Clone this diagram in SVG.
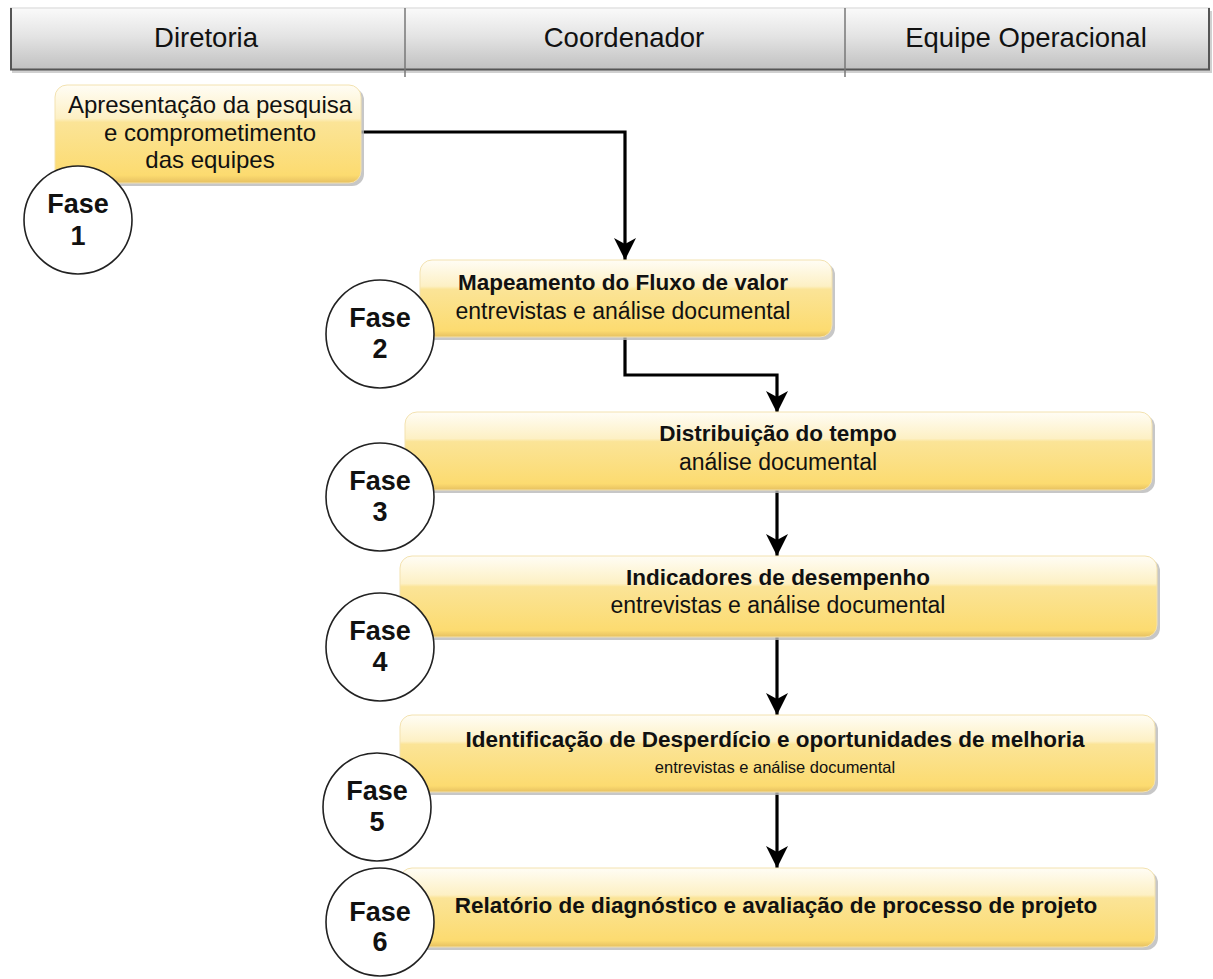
<svg xmlns="http://www.w3.org/2000/svg" width="1213" height="979" viewBox="0 0 1213 979">
  <defs>
    <linearGradient id="hdr" x1="0" y1="0" x2="0" y2="1">
      <stop offset="0" stop-color="#fafafa"/>
      <stop offset="0.45" stop-color="#e4e4e4"/>
      <stop offset="1" stop-color="#c0c0c0"/>
    </linearGradient>
    <linearGradient id="box" x1="0" y1="0" x2="0" y2="1">
      <stop offset="0" stop-color="#fffdf5"/>
      <stop offset="0.34" stop-color="#fdf0c4"/>
      <stop offset="0.38" stop-color="#fbe497"/>
      <stop offset="0.92" stop-color="#fcdb70"/>
      <stop offset="1" stop-color="#e6c060"/>
    </linearGradient>
    <marker id="arrow" markerUnits="userSpaceOnUse" markerWidth="24" markerHeight="26" refX="22" refY="12" orient="auto">
      <path d="M22,12 L0,1 L6,12 L0,23 Z" fill="#000"/>
    </marker>
    <style>
      .lane { fill: url(#hdr); stroke: none; }
      .lanetxt { font-family: "Liberation Sans", Arial, sans-serif; font-size: 27.5px; fill: #111; text-anchor: middle; }
      .shadow { fill: #b9b9b9; opacity: 0.8; }
      .box { fill: url(#box); stroke: #f3e2b0; stroke-width: 1; }
      .t { font-family: "Liberation Sans", Arial, sans-serif; font-size: 23px; fill: #111; text-anchor: middle; }
      .big { font-size: 24px; }
      .b { font-weight: bold; font-size: 22.5px; }
      .s { font-size: 16.5px; }
      .phase { fill: #fff; stroke: #222; stroke-width: 1.6; }
      .ptxt { font-family: "Liberation Sans", Arial, sans-serif; font-size: 27px; font-weight: bold; fill: #111; text-anchor: middle; }
      .edge { fill: none; stroke: #000; stroke-width: 3.2; marker-end: url(#arrow); }
    </style>
  </defs>

  <!-- swimlane header -->
  <g id="header">
    <rect x="12" y="11" width="1200" height="62" fill="#d0d0d0"/>
    <rect class="lane" x="10" y="8" width="1200" height="62"/>
    <line x1="10" y1="8" x2="1210" y2="8" stroke="#e2e2e2" stroke-width="1.5"/>
    <line x1="11" y1="8" x2="11" y2="70" stroke="#555" stroke-width="2"/>
    <line x1="1209" y1="8" x2="1209" y2="70" stroke="#555" stroke-width="2"/>
    <line x1="10" y1="69.5" x2="1210" y2="69.5" stroke="#555" stroke-width="2"/>
    <line x1="405" y1="8" x2="405" y2="77" stroke="#777" stroke-width="1.5"/>
    <line x1="845" y1="8" x2="845" y2="77" stroke="#777" stroke-width="1.5"/>
    <text class="lanetxt" x="206" y="47">Diretoria</text>
    <text class="lanetxt" x="624" y="47">Coordenador</text>
    <text class="lanetxt" x="1026" y="47">Equipe Operacional</text>
  </g>

  <!-- connectors -->
  <g id="connectors">
    <path class="edge" d="M361,132 H625 V260"/>
    <path class="edge" d="M625,337 V375 H777 V413"/>
    <path class="edge" d="M777,490 V556"/>
    <path class="edge" d="M777,637 V715"/>
    <path class="edge" d="M777,792 V868"/>
  </g>

  <!-- process steps -->
  <g id="step1">
    <rect class="shadow" x="58" y="88" width="306" height="98" rx="12"/>
    <rect class="box" x="55" y="85" width="306" height="98" rx="12"/>
    <text class="t big" x="210" y="113">Apresentação da pesquisa</text>
    <text class="t big" x="210" y="141">e comprometimento</text>
    <text class="t big" x="210" y="168">das equipes</text>
  </g>
  <g id="step2">
    <rect class="shadow" x="423" y="263" width="412" height="77" rx="12"/>
    <rect class="box" x="420" y="260" width="412" height="77" rx="12"/>
    <text class="t b" x="623" y="290">Mapeamento do Fluxo de valor</text>
    <text class="t" x="623" y="319">entrevistas e análise documental</text>
  </g>
  <g id="step3">
    <rect class="shadow" x="408" y="415" width="747" height="78" rx="12"/>
    <rect class="box" x="405" y="412" width="747" height="78" rx="12"/>
    <text class="t b" x="778" y="441">Distribuição do tempo</text>
    <text class="t" x="778" y="470">análise documental</text>
  </g>
  <g id="step4">
    <rect class="shadow" x="403" y="559" width="757" height="81" rx="12"/>
    <rect class="box" x="400" y="556" width="757" height="81" rx="12"/>
    <text class="t b" x="778" y="585">Indicadores de desempenho</text>
    <text class="t" x="778" y="613">entrevistas e análise documental</text>
  </g>
  <g id="step5">
    <rect class="shadow" x="403" y="718" width="755" height="77" rx="12"/>
    <rect class="box" x="400" y="715" width="755" height="77" rx="12"/>
    <text class="t b" x="775" y="747">Identificação de Desperdício e oportunidades de melhoria</text>
    <text class="t s" x="775" y="773">entrevistas e análise documental</text>
  </g>
  <g id="step6">
    <rect class="shadow" x="403" y="871" width="755" height="79" rx="12"/>
    <rect class="box" x="400" y="868" width="755" height="79" rx="12"/>
    <text class="t b" x="776" y="913">Relatório de diagnóstico e avaliação de processo de projeto</text>
  </g>

  <!-- phase badges -->
  <g id="phase1">
    <circle class="phase" cx="78" cy="220" r="54"/>
    <text class="ptxt" x="78" y="213">Fase</text>
    <text class="ptxt" x="78" y="245">1</text>
  </g>
  <g id="phase2">
    <circle class="phase" cx="380" cy="334" r="54"/>
    <text class="ptxt" x="380" y="327">Fase</text>
    <text class="ptxt" x="380" y="358">2</text>
  </g>
  <g id="phase3">
    <circle class="phase" cx="380" cy="497" r="54"/>
    <text class="ptxt" x="380" y="490">Fase</text>
    <text class="ptxt" x="380" y="521">3</text>
  </g>
  <g id="phase4">
    <circle class="phase" cx="380" cy="647" r="54"/>
    <text class="ptxt" x="380" y="640">Fase</text>
    <text class="ptxt" x="380" y="671">4</text>
  </g>
  <g id="phase5">
    <circle class="phase" cx="377" cy="807" r="54"/>
    <text class="ptxt" x="377" y="800">Fase</text>
    <text class="ptxt" x="377" y="831">5</text>
  </g>
  <g id="phase6">
    <circle class="phase" cx="380" cy="922" r="54"/>
    <text class="ptxt" x="380" y="921">Fase</text>
    <text class="ptxt" x="380" y="951">6</text>
  </g>
</svg>
